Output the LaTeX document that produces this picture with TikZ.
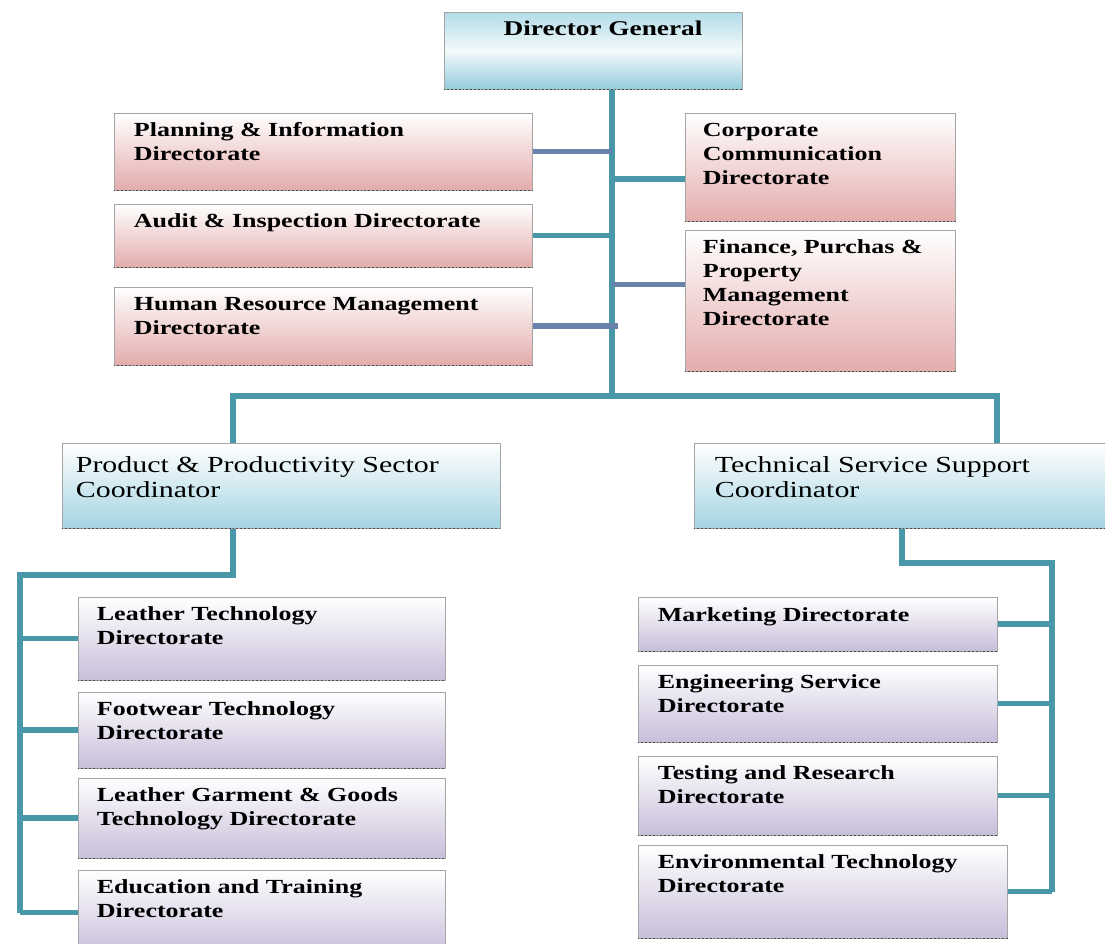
\documentclass[tikz,border=0pt]{standalone}
\usepackage{fontspec}
\setmainfont{Liberation Serif}[FakeStretch=1.3]
\usepackage{tikz}
\usetikzlibrary{fit,positioning}
\definecolor{myteal}{RGB}{72,152,170}
\definecolor{myslate}{RGB}{104,130,172}
\definecolor{mypink}{RGB}{228,172,172}
\definecolor{mylilac}{RGB}{200,190,218}
\definecolor{mysky}{RGB}{165,212,226}
\definecolor{mydgtop}{RGB}{178,220,232}
\definecolor{mydgbot}{RGB}{150,204,220}
\definecolor{boxgray}{RGB}{165,165,165}
\tikzstyle{pinkbox}=[draw=boxgray,line width=0.5pt,top color=white,bottom color=mypink,inner sep=0pt]
\tikzstyle{lilacbox}=[draw=boxgray,line width=0.5pt,top color=white,bottom color=mylilac,inner sep=0pt]
\tikzstyle{skybox}=[draw=boxgray,line width=0.5pt,top color=white,bottom color=mysky,inner sep=0pt]
\tikzstyle{boxtext}=[anchor=north west,align=left,inner sep=0pt,xshift=10pt,yshift=-5pt,
  font=\bfseries\fontsize{10}{12}\selectfont]
\tikzstyle{lefttext}=[anchor=north west,align=left,inner sep=0pt,xshift=9.5pt,yshift=-5pt,
  font=\bfseries\fontsize{10}{12}\selectfont]
\tikzstyle{cotext}=[anchor=north west,align=left,inner sep=0pt,yshift=-6.6pt,
  font=\fontsize{11.5}{12.5}\selectfont]
\tikzstyle{link}=[draw=myteal,line width=2.6pt]
\tikzstyle{slatelink}=[draw=myslate,line width=2.6pt]
\tikzstyle{dotrule}=[densely dotted,line width=0.9pt,draw=black!70]

\begin{document}
\begin{tikzpicture}[x=0.5pt,y=-0.5pt]
\useasboundingbox (0,0) rectangle (1105,944);

% head
\node [draw=boxgray,line width=0.5pt,top color=mydgtop,bottom color=mydgbot,middle color=white!85!mydgtop,inner sep=0pt,
  fit={(444,12) (742,89)},
  label={[anchor=north,inner sep=0pt,xshift=5pt,yshift=-4.3pt,font=\bfseries\fontsize{10.5}{12}\selectfont]north:{Director General}}] (dg) {};

% staff directorates
\node [pinkbox,fit={(114,113) (532,190)},label={[boxtext]north west:{Planning \& Information\\Directorate}}] (plan) {};
\node [pinkbox,fit={(114,204) (532,267)},label={[boxtext]north west:{Audit \& Inspection Directorate}}] (audit) {};
\node [pinkbox,fit={(114,287) (532,365)},label={[boxtext]north west:{Human Resource Management\\Directorate}}] (hrm) {};
\node [pinkbox,fit={(685,113) (955,221)},label={[boxtext,xshift=-1pt]north west:{Corporate\\Communication\\Directorate}}] (corp) {};
\node [pinkbox,fit={(685,230) (955,371)},label={[boxtext,xshift=-1pt]north west:{Finance, Purchas \&\\Property\\Management\\Directorate}}] (fin) {};

% coordinators
\node [skybox,fit={(62,443) (500,528)},label={[cotext,xshift=7pt]north west:{Product \& Productivity Sector\\Coordinator}}] (prod) {};
\node [skybox,fit={(694,443) (1110,528)},label={[cotext,xshift=10.5pt]north west:{Technical Service Support\\Coordinator}}] (tech) {};

% product side
\node [lilacbox,fit={(78,597) (445,680)},label={[lefttext]north west:{Leather Technology\\Directorate}}] (lt) {};
\node [lilacbox,fit={(78,692) (445,768)},label={[lefttext]north west:{Footwear Technology\\Directorate}}] (ft) {};
\node [lilacbox,fit={(78,778) (445,858)},label={[lefttext]north west:{Leather Garment \& Goods\\Technology Directorate}}] (gt) {};
\node [lilacbox,fit={(78,870) (445,955)},label={[lefttext]north west:{Education and Training\\Directorate}}] (edu) {};

% service side
\node [lilacbox,fit={(638,597) (997,651)},label={[boxtext,yshift=-0.5pt]north west:{Marketing Directorate}}] (mkt) {};
\node [lilacbox,fit={(638,665) (997,742)},label={[boxtext]north west:{Engineering Service\\Directorate}}] (eng) {};
\node [lilacbox,fit={(638,756) (997,835)},label={[boxtext]north west:{Testing and Research\\Directorate}}] (tst) {};
\node [lilacbox,fit={(638,845) (1007,938)},label={[boxtext]north west:{Environmental Technology\\Directorate}}] (env) {};

\foreach \n in {dg,plan,audit,hrm,corp,fin,prod,tech,lt,ft,gt,edu,mkt,eng,tst,env}
  \draw [dotrule] (\n.south west) -- (\n.south east);

% connectors
\coordinate (hub) at (612,396);
\coordinate (barL) at (233,396);
\coordinate (barR) at (997,396);
\coordinate (pl) at (20,575);
\coordinate (pr) at (1052,563);

\draw [link] (hub |- dg.south) -- (hub);
\draw [link] (barL |- prod.north) -- (barL) -- (barR) -- (barR |- tech.north);
\draw [slatelink] (plan.east) -- (plan.east -| hub);
\draw [link] (audit.east) -- (audit.east -| hub);
\draw [slatelink] (hrm.east) -- ([xshift=3pt]hrm.east -| hub);
\draw [link] ([yshift=-6pt]corp.west) -- ([yshift=-6pt]corp.west -| hub);
\draw [slatelink] ([yshift=8pt]fin.west) -- ([yshift=8pt]fin.west -| hub);

\draw [link] (barL |- prod.south) |- (pl) -- (pl |- edu.west);
\foreach \n in {lt,ft,gt,edu}
  \draw [link] (pl |- \n.west) -- (\n.west);

\draw [link] (tech.south) |- (pr) -- (pr |- env.east);
\foreach \n in {mkt,eng,tst,env}
  \draw [link] (\n.east) -- (\n.east -| pr);
\end{tikzpicture}
\end{document}
